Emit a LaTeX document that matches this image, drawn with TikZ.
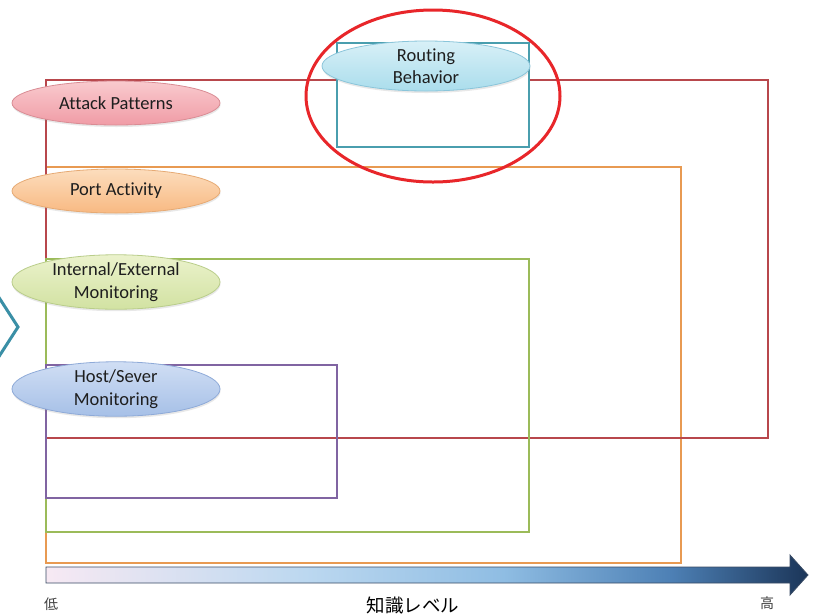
\documentclass[tikz,border=0pt]{standalone}
\usepackage{fontspec}
\setmainfont[Ligatures=NoCommon]{Carlito}
\newfontfamily\jpfont{Noto Sans CJK JP}
\usetikzlibrary{shapes.geometric,shadows}

% Office-style theme colours
\definecolor{boxred}{HTML}{B8474C}
\definecolor{boxorange}{HTML}{E89A52}
\definecolor{boxgreen}{HTML}{9BBB59}
\definecolor{boxpurple}{HTML}{8064A2}
\definecolor{boxteal}{HTML}{4A9EAE}
\definecolor{chev}{HTML}{3A8FA6}
\definecolor{ringred}{HTML}{E8262A}
\definecolor{labeltext}{HTML}{1E1E1E}

\definecolor{pinkT}{HTML}{F9CACE}\definecolor{pinkB}{HTML}{F09CA6}\definecolor{pinkE}{HTML}{D98C94}
\definecolor{orangeT}{HTML}{FCDDBD}\definecolor{orangeB}{HTML}{F8B982}\definecolor{orangeE}{HTML}{E6AA74}
\definecolor{greenT}{HTML}{EBF2CC}\definecolor{greenB}{HTML}{D2E2A2}\definecolor{greenE}{HTML}{B9CD8A}
\definecolor{blueT}{HTML}{D0DEF4}\definecolor{blueB}{HTML}{A6C0E7}\definecolor{blueE}{HTML}{8EAAD8}
\definecolor{aquaT}{HTML}{D8F0F7}\definecolor{aquaB}{HTML}{AADDEC}\definecolor{aquaE}{HTML}{8AC5DA}

\definecolor{scA}{HTML}{F7E9F3}
\definecolor{scB}{HTML}{BCD8F0}
\definecolor{scC}{HTML}{8FBDE3}
\definecolor{scD}{HTML}{4D80B5}
\definecolor{scE}{HTML}{1B3558}
\pgfdeclarehorizontalshading{knowledge}{100bp}{%
  color(0bp)=(scA); color(25bp)=(scA); color(42bp)=(scB); color(55bp)=(scC);
  color(66bp)=(scD); color(75bp)=(scE); color(100bp)=(scE)}

\tikzset{
  levelbox/.style={line width=2pt},
  topic/.style={ellipse, minimum width=208pt, minimum height=44pt, inner sep=0pt,
    align=center, line width=0.8pt, text=labeltext,
    font=\fontsize{18.5}{22.5}\selectfont,
    drop shadow={shadow xshift=0.5pt, shadow yshift=-2pt, opacity=0.18}},
  cjk/.style={font=\jpfont\fontsize{#1}{#1}\selectfont, text=black, inner sep=0pt},
}

\begin{document}
\begin{tikzpicture}[x=1pt,y=-1pt]
\useasboundingbox[fill=white] (0,0) rectangle (816,614);

% nested knowledge-level frames
\draw[levelbox, boxorange] (46,167) rectangle (681,563);
\draw[levelbox, boxred]    (46,80)  rectangle (768,438);
\draw[levelbox, boxgreen]  (46,259) rectangle (529,532);
\draw[levelbox, boxpurple] (46,365) rectangle (337,498);
\draw[levelbox, boxteal, fill=white] (337,43) rectangle (529,147);

% left chevron
\draw[chev, line width=3pt, line join=miter] (-2,296) -- (18,327) -- (-2,358);

% category ellipses
\node[topic, draw=pinkE, top color=pinkT, bottom color=pinkB] (attack) at (116,103) {Attack Patterns};
\node[topic, draw=orangeE, top color=orangeT, bottom color=orangeB] (port) at (116,191) {Port Activity};
\node[topic, draw=greenE, top color=greenT, bottom color=greenB] (intext) at (116,282) {Internal/External\\Monitoring};
\node[topic, draw=blueE, top color=blueT, bottom color=blueB] (host) at (116,389) {Host/Sever\\Monitoring};
\node[topic, draw=aquaE, top color=aquaT, bottom color=aquaB] (routing) at (426,66) {Routing\\Behavior};

% highlight ring
\node[ellipse, draw=ringred, line width=3pt, minimum width=254pt, minimum height=172pt, inner sep=0pt] (ring) at (433,96) {};

% knowledge-level axis arrow
\shade[shading=knowledge, draw=scE!70!gray, line width=0.8pt]
  (46,567) -- (790,567) -- (790,555) -- (808,575) -- (790,595) -- (790,583) -- (46,583) -- cycle;

\node[cjk=14, text=black!75] (low) at (51,604) {低};
\node[cjk=18.5] (axislabel) at (413,605) {知識レベル};
\node[cjk=14, text=black!75] (high) at (767,603) {高};
\end{tikzpicture}
\end{document}
